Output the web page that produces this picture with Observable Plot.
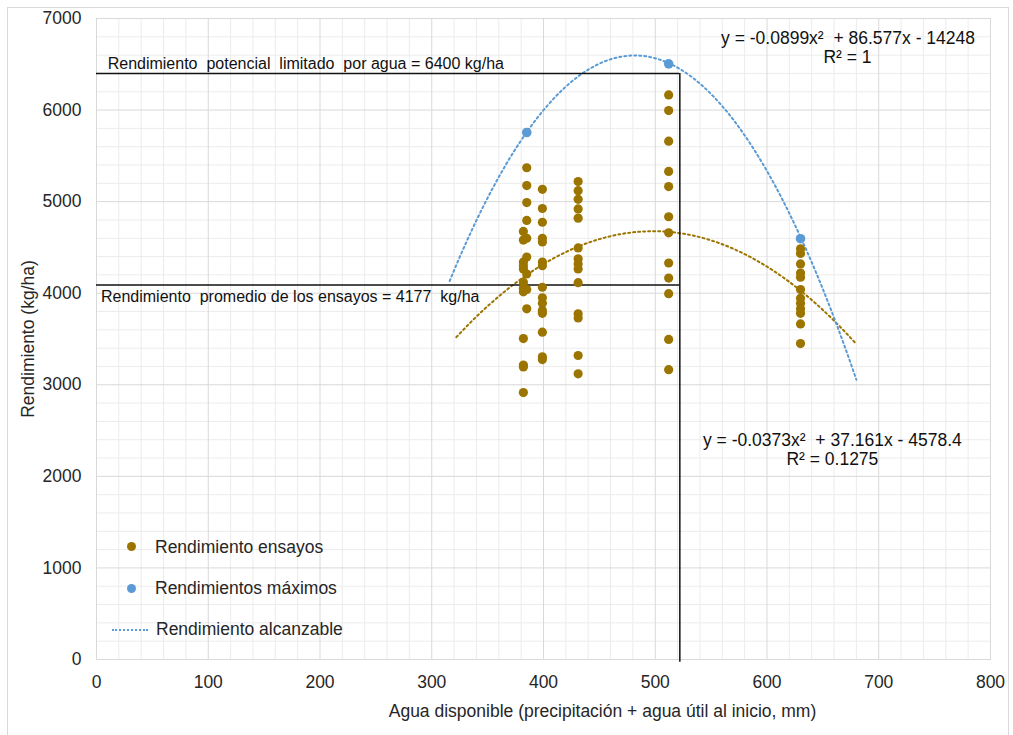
<!DOCTYPE html>
<html>
<head>
<meta charset="utf-8">
<script src="https://cdn.jsdelivr.net/npm/d3@7"></script>
<script src="https://cdn.jsdelivr.net/npm/@observablehq/plot@0.6"></script>
<style>
  body { margin: 0; background: #fff; font-family: "Liberation Sans", Arial, sans-serif; }
  #wrap { position: relative; width: 1013px; height: 735px; overflow: hidden; }
  #border { position: absolute; left: 7px; top: 7px; width: 1000px; height: 760px; border: 1px solid #d9d9d9; pointer-events: none; }
  .lg { position: absolute; font-size: 17.5px; line-height: 20px; color: #262626; white-space: nowrap; }
  .dot { position: absolute; width: 9px; height: 9px; border-radius: 50%; }
  .dash { position: absolute; height: 0; border-top: 2px dotted #5B9BD5; }
</style>
</head>
<body>
<div id="wrap">
  <div id="chart"></div>
  <div id="border"></div>
  <div class="dot" style="left:126.5px;top:542px;background:#9C7400"></div>
  <div class="lg" id="lg1" style="left:155px;top:536.5px"></div>
  <div class="dot" style="left:126.5px;top:583.5px;background:#5B9BD5"></div>
  <div class="lg" id="lg2" style="left:155px;top:578px"></div>
  <div class="dash" style="left:112px;top:628.5px;width:36px"></div>
  <div class="lg" id="lg3" style="left:156px;top:619px"></div>
</div>
<script>
// Rendimiento de ensayos (agua disponible mm, rendimiento kg/ha)
const trialX = [
  385,385,385,385,382,382,385,385,382,382,382,385,382,382,385,382,385,382,382,382,382,
  399,399,399,399,399,399,399,399,399,399,399,399,399,399,399,
  431,431,431,431,431,431,431,431,431,431,431,431,431,431,
  512,512,512,512,512,512,512,512,512,512,512,512,
  630,630,630,630,630,630,630,630,630,630,630,630
];
const trialY = [
  5370,5175,4990,4795,4675,4580,4600,4395,4340,4300,4265,4210,4120,4055,4040,4015,3830,3505,3215,3195,2915,
  5135,4925,4775,4600,4560,4340,4300,4065,3950,3890,3810,3780,3575,3305,3275,
  5220,5120,5025,4920,4820,4495,4375,4320,4265,4115,3775,3730,3320,3120,
  6165,5995,5660,5330,5165,4835,4660,4330,4165,3995,3495,3165,
  4485,4435,4320,4220,4175,4040,3945,3890,3830,3780,3665,3450
];
// Rendimientos máximos
const maxX = [385, 512, 630];
const maxY = [5755, 6505, 4595];

// Trend-line coefficients shown on the chart (a, b, c) and their plotted x-range
const maxCoef = [-0.0899, 86.577, -14248];
const maxRange = [316, 680];
const trialCoef = [-0.0373, 37.161, -4578.4];
const trialRange = [322, 680];

// Reference values
const potentialYield = [6400];
const averageLine = [4090];
const limitWater = [522];

// Texts
const potentialLabel = ["Rendimiento  potencial  limitado  por agua = 6400 kg/ha"];
const averageLabel = ["Rendimiento  promedio de los ensayos = 4177  kg/ha"];
const eqMax = ["y = -0.0899x\u00B2  + 86.577x - 14248", "R\u00B2 = 1"];
const eqTrial = ["y = -0.0373x\u00B2  + 37.161x - 4578.4", "R\u00B2 = 0.1275"];
const legendLabels = ["Rendimiento ensayos", "Rendimientos máximos", "Rendimiento alcanzable"];
const xTitle = ["Agua disponible (precipitación + agua útil al inicio, mm)"];
const yTitle = ["Rendimiento (kg/ha)"];
const xTicks = [0, 100, 200, 300, 400, 500, 600, 700, 800];
const yTicks = [0, 1000, 2000, 3000, 4000, 5000, 6000, 7000];

document.getElementById("lg1").textContent = legendLabels[0];
document.getElementById("lg2").textContent = legendLabels[1];
document.getElementById("lg3").textContent = legendLabels[2];

const trials = trialX.map((x, i) => ({x, y: trialY[i]}));
const maxima = maxX.map((x, i) => ({x, y: maxY[i]}));
function curve(coef, range) {
  const xs = d3.range(range[0], range[1] + 0.001, 2);
  return xs.map(x => ({x, y: coef[0] * x * x + coef[1] * x + coef[2]}));
}
const maxCurve = curve(maxCoef, maxRange);
const trialCurve = curve(trialCoef, trialRange);

const minorX = d3.range(0, 801, 20).filter(v => v % 100 !== 0);
const minorY = d3.range(0, 7001, 200).filter(v => v % 1000 !== 0);

const brown = "#9C7400";
const blue = "#5B9BD5";

const chart = Plot.plot({
  width: 1013,
  height: 735,
  marginLeft: 96,
  marginRight: 23,
  marginTop: 18,
  marginBottom: 76,
  style: { fontFamily: "'Liberation Sans', Arial, sans-serif", fontSize: "17.5px", color: "#262626", background: "transparent" },
  x: { domain: [0, 800] },
  y: { domain: [0, 7000] },
  marks: [
    Plot.gridX(minorX, { stroke: "#ececec", strokeOpacity: 1 }),
    Plot.gridY(minorY, { stroke: "#ececec", strokeOpacity: 1 }),
    Plot.gridX(xTicks, { stroke: "#d9d9d9", strokeOpacity: 1 }),
    Plot.gridY(yTicks, { stroke: "#d9d9d9", strokeOpacity: 1 }),
    Plot.frame({ stroke: "#d9d9d9" }),
    Plot.axisX(xTicks, { tickSize: 0, tickPadding: 16, fontSize: 17.5, label: null, tickFormat: d => String(d) }),
    Plot.axisY(yTicks, { tickSize: 0, tickPadding: 15, fontSize: 17.5, label: null, tickFormat: d => String(d) }),
    Plot.text(xTitle, { frameAnchor: "bottom", dx: 59, dy: 57, fontSize: 17.5 }),
    Plot.text(yTitle, { frameAnchor: "left", textAnchor: "middle", dx: -68, rotate: -90, fontSize: 17.5 }),
    // trend lines
    Plot.line(trialCurve, { x: "x", y: "y", stroke: brown, strokeWidth: 2, strokeDasharray: "2 3" }),
    Plot.line(maxCurve, { x: "x", y: "y", stroke: blue, strokeWidth: 2, strokeDasharray: "2 3" }),
    // reference lines
    Plot.ruleY(potentialYield, { x1: 0, x2: limitWater[0], stroke: "#111", strokeWidth: 1.5 }),
    Plot.ruleY(averageLine, { x1: 0, x2: limitWater[0], stroke: "#111", strokeWidth: 1.5 }),
    Plot.ruleX(limitWater, { y1: -30, y2: potentialYield[0], stroke: "#111", strokeWidth: 1.5, clip: false }),
    // points
    Plot.dot(trials, { x: "x", y: "y", r: 4.6, fill: brown }),
    Plot.dot(maxima, { x: "x", y: "y", r: 4.8, fill: blue }),
    // annotations
    Plot.text(potentialLabel, { x: 10, y: 6500, textAnchor: "start", fontSize: 16, fill: "#111" }),
    Plot.text(averageLabel, { x: 4, y: 3955, textAnchor: "start", fontSize: 16, fill: "#111" }),
    Plot.text([eqMax[0]], { x: 672.5, y: 6785, fontSize: 17.5, fill: "#111" }),
    Plot.text([eqMax[1]], { x: 672, y: 6570, fontSize: 17.5, fill: "#111" }),
    Plot.text([eqTrial[0]], { x: 658.5, y: 2390, fontSize: 17.5, fill: "#111" }),
    Plot.text([eqTrial[1]], { x: 658.5, y: 2190, fontSize: 17.5, fill: "#111" })
  ]
});
document.getElementById("chart").appendChild(chart);
</script>
</body>
</html>
